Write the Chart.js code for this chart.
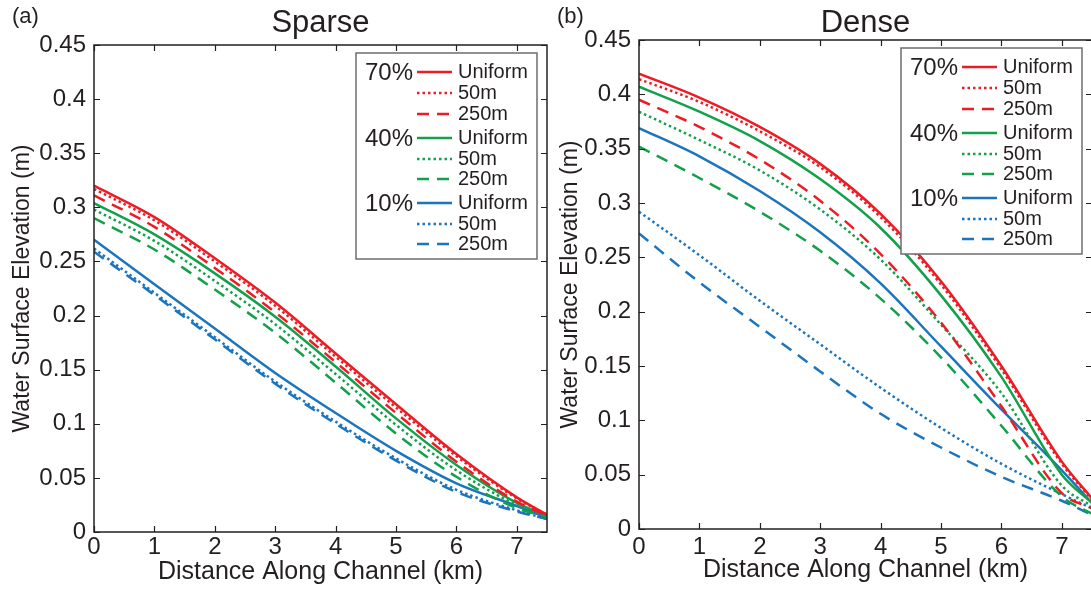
<!DOCTYPE html>
<html>
<head>
<meta charset="utf-8">
<script src="https://cdn.jsdelivr.net/npm/chart.js@4.4.1/dist/chart.umd.min.js"></script>
<style>
  html, body { margin: 0; padding: 0; background: #fff; overflow: hidden; }
  #wrap { position: relative; width: 1091px; height: 590px; overflow: hidden; }
  canvas { position: absolute; top: 0; }
  #sparseChart { left: 0; }
  #denseChart { left: 548px; }
</style>
</head>
<body>
<div id="wrap">
  <canvas id="sparseChart" width="548" height="590"></canvas>
  <canvas id="denseChart" width="548" height="590"></canvas>
</div>
<script>
//Water surface elevation along channel - sparse vs dense vegetation

const distanceKm = [0, 1, 2, 3, 4, 5, 6, 7, 7.5];
const xTicks = [0, 1, 2, 3, 4, 5, 6, 7];
const yTicks = [0, 0.05, 0.1, 0.15, 0.2, 0.25, 0.3, 0.35, 0.4, 0.45];
const coverLabels = ["70%", "40%", "10%"];
const patchLabels = ["Uniform", "50m", "250m"];

//---------------------------- Sparse ----------------------------
const sparse70Uniform = [0.320, 0.291, 0.253, 0.212, 0.165, 0.118, 0.072, 0.032, 0.016];
const sparse70Patch50 = [0.317, 0.288, 0.250, 0.209, 0.162, 0.115, 0.070, 0.031, 0.016];
const sparse70Patch250 = [0.311, 0.282, 0.244, 0.203, 0.157, 0.110, 0.065, 0.028, 0.015];
const sparse40Uniform = [0.304, 0.275, 0.239, 0.199, 0.153, 0.105, 0.062, 0.027, 0.015];
const sparse40Patch50 = [0.298, 0.269, 0.232, 0.192, 0.146, 0.099, 0.057, 0.025, 0.015];
const sparse40Patch250 = [0.290, 0.261, 0.224, 0.184, 0.138, 0.091, 0.051, 0.022, 0.014];
const sparse10Uniform = [0.270, 0.229, 0.188, 0.147, 0.110, 0.075, 0.045, 0.024, 0.013];
const sparse10Patch50 = [0.262, 0.221, 0.180, 0.139, 0.102, 0.068, 0.039, 0.020, 0.012];
const sparse10Patch250 = [0.259, 0.219, 0.178, 0.137, 0.100, 0.066, 0.037, 0.019, 0.012];

//---------------------------- Dense -----------------------------
const dense70Uniform = [0.419, 0.397, 0.370, 0.336, 0.290, 0.228, 0.150, 0.062, 0.028];
const dense70Patch50 = [0.414, 0.393, 0.366, 0.333, 0.287, 0.225, 0.147, 0.060, 0.027];
const dense70Patch250 = [0.395, 0.370, 0.340, 0.302, 0.253, 0.190, 0.113, 0.033, 0.019];
const dense40Uniform = [0.407, 0.384, 0.357, 0.322, 0.277, 0.215, 0.140, 0.050, 0.024];
const dense40Patch50 = [0.384, 0.358, 0.330, 0.294, 0.248, 0.188, 0.125, 0.040, 0.021];
const dense40Patch250 = [0.352, 0.323, 0.292, 0.256, 0.212, 0.158, 0.095, 0.030, 0.014];
const dense10Uniform = [0.369, 0.343, 0.311, 0.273, 0.226, 0.168, 0.110, 0.054, 0.024];
const dense10Patch50 = [0.292, 0.252, 0.210, 0.170, 0.130, 0.093, 0.060, 0.032, 0.019];
const dense10Patch250 = [0.272, 0.227, 0.186, 0.145, 0.106, 0.075, 0.048, 0.026, 0.013];

const coverColors = ["#ed1c24", "#13a04a", "#1c75bc"];
const patchDashes = [[], [2.5, 3], [12, 8]];
const inkColor = "#231f20";
const fontFamily = "'Liberation Sans', Arial, sans-serif";

Chart.defaults.font.family = fontFamily;
Chart.defaults.color = inkColor;

function buildDatasets(groups) {
    const sets = [];
    groups.forEach((group, g) => {
        group.forEach((values, p) => {
            sets.push({
                label: coverLabels[g] + " " + patchLabels[p],
                data: distanceKm.map((d, i) => ({ x: d, y: values[i] })),
                borderColor: coverColors[g],
                backgroundColor: coverColors[g],
                borderWidth: 2.5,
                borderDash: patchDashes[p],
                pointRadius: 0,
                cubicInterpolationMode: "monotone",
                fill: false,
            });
        });
    });
    return sets;
}

// frame with inward ticks, title, panel tag and the grouped legend
const panelDecor = {
    id: "panelDecor",
    afterDraw(chart, args, opts) {
        const ctx = chart.ctx;
        const a = chart.chartArea;
        const xs = chart.scales.x;
        const ys = chart.scales.y;
        ctx.save();
        ctx.strokeStyle = inkColor;
        ctx.lineWidth = 1.5;
        ctx.strokeRect(a.left, a.top, a.right - a.left, a.bottom - a.top);
        ctx.beginPath();
        xTicks.forEach((v) => {
            const px = Math.round(xs.getPixelForValue(v)) + 0.5;
            ctx.moveTo(px, a.bottom); ctx.lineTo(px, a.bottom - 6);
            ctx.moveTo(px, a.top); ctx.lineTo(px, a.top + 6);
        });
        yTicks.forEach((v) => {
            const py = Math.round(ys.getPixelForValue(v)) + 0.5;
            ctx.moveTo(a.left, py); ctx.lineTo(a.left + 6, py);
            ctx.moveTo(a.right, py); ctx.lineTo(a.right - 6, py);
        });
        ctx.lineWidth = 1.2;
        ctx.stroke();

        // title + tag
        ctx.fillStyle = inkColor;
        ctx.textBaseline = "alphabetic";
        ctx.textAlign = "center";
        ctx.font = "31px " + fontFamily;
        ctx.fillText(opts.title, (a.left + a.right) / 2, 32);
        ctx.textAlign = "left";
        ctx.font = "22px " + fontFamily;
        ctx.fillText(opts.tag, opts.tagX, 23);

        // legend
        const bx = a.right - 191;
        const by = a.top + 8;
        const bw = 181;
        const bh = 206;
        ctx.fillStyle = "#fff";
        ctx.fillRect(bx, by, bw, bh);
        ctx.strokeStyle = "#6d6e71";
        ctx.lineWidth = 1.5;
        ctx.strokeRect(bx, by, bw, bh);
        const rowOffsets = [19, 40, 61, 85, 106, 126, 150, 171, 191];
        let r = 0;
        coverLabels.forEach((cover, g) => {
            ctx.fillStyle = inkColor;
            ctx.textBaseline = "middle";
            ctx.textAlign = "right";
            ctx.font = "24px " + fontFamily;
            ctx.fillText(cover, bx + 57, by + rowOffsets[r] + 1);
            patchLabels.forEach((patch, p) => {
                const ry = by + rowOffsets[r];
                ctx.beginPath();
                ctx.strokeStyle = coverColors[g];
                ctx.lineWidth = 2.5;
                ctx.setLineDash(patchDashes[p]);
                ctx.moveTo(bx + 61, ry);
                ctx.lineTo(bx + 96, ry);
                ctx.stroke();
                ctx.setLineDash([]);
                ctx.fillStyle = inkColor;
                ctx.textAlign = "left";
                ctx.font = "20px " + fontFamily;
                ctx.fillText(patch, bx + 102, ry);
                r++;
            });
        });
        ctx.restore();
    },
};

function makeConfig(groups, o) {
    return {
        type: "line",
        data: { datasets: buildDatasets(groups) },
        options: {
            responsive: false,
            animation: false,
            layout: { padding: { top: o.padTop, right: o.padRight, left: 0, bottom: 0 } },
            scales: {
                x: {
                    type: "linear",
                    min: 0,
                    max: 7.5,
                    afterBuildTicks: (scale) => { scale.ticks = xTicks.map((v) => ({ value: v })); },
                    afterFit: (scale) => { scale.height = o.xAxisHeight; },
                    grid: { display: false, drawTicks: false },
                    border: { display: false },
                    ticks: {
                        autoSkip: false,
                        maxRotation: 0,
                        padding: o.xTickPad,
                        font: { size: 24 },
                        callback: (v) => String(v),
                    },
                    title: {
                        display: true,
                        text: "Distance Along Channel (km)",
                        font: { size: 25 },
                        padding: { top: 0, bottom: o.xTitlePad },
                    },
                },
                y: {
                    type: "linear",
                    min: 0,
                    max: 0.45,
                    afterBuildTicks: (scale) => { scale.ticks = yTicks.map((v) => ({ value: v })); },
                    afterFit: (scale) => { scale.width = o.yAxisWidth; },
                    grid: { display: false, drawTicks: false },
                    border: { display: false },
                    ticks: {
                        autoSkip: false,
                        padding: 8,
                        font: { size: 24 },
                        callback: (v) => String(v),
                    },
                    title: {
                        display: true,
                        text: "Water Surface Elevation (m)",
                        font: { size: 23 },
                        padding: { top: 9, bottom: 0 },
                    },
                },
            },
            plugins: {
                legend: { display: false },
                tooltip: { enabled: false },
                panelDecor: { title: o.title, tag: o.tag, tagX: o.tagX },
            },
        },
        plugins: [panelDecor],
    };
}

const sparseChart = new Chart(
    document.getElementById("sparseChart").getContext("2d"),
    makeConfig(
        [
            [sparse70Uniform, sparse70Patch50, sparse70Patch250],
            [sparse40Uniform, sparse40Patch50, sparse40Patch250],
            [sparse10Uniform, sparse10Patch50, sparse10Patch250],
        ],
        { title: "Sparse", tag: "(a)", tagX: 12, padTop: 45, padRight: 1, xAxisHeight: 58, yAxisWidth: 94, xTickPad: 1, xTitlePad: 3 }
    )
);

const denseChart = new Chart(
    document.getElementById("denseChart").getContext("2d"),
    makeConfig(
        [
            [dense70Uniform, dense70Patch50, dense70Patch250],
            [dense40Uniform, dense40Patch50, dense40Patch250],
            [dense10Uniform, dense10Patch50, dense10Patch250],
        ],
        { title: "Dense", tag: "(b)", tagX: 9, padTop: 40, padRight: 4, xAxisHeight: 61, yAxisWidth: 91, xTickPad: 4, xTitlePad: 5 }
    )
);
</script>
</body>
</html>
